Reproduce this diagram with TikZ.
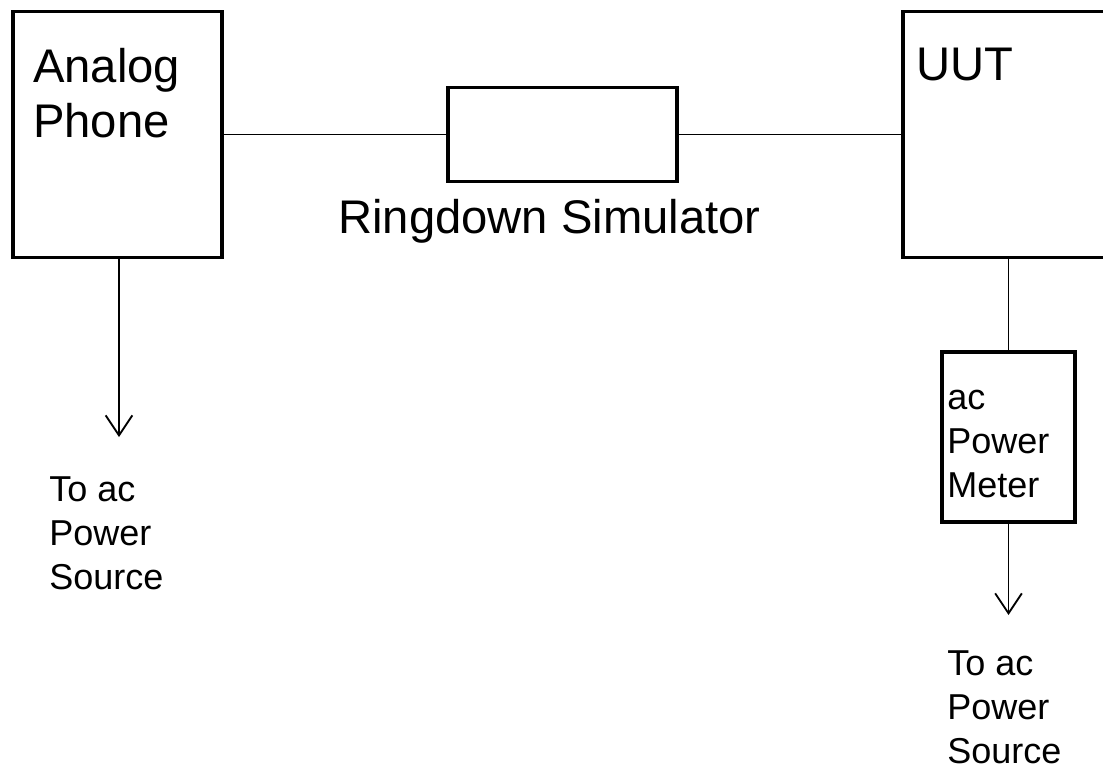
\documentclass[tikz,border=0pt]{standalone}
\usepackage{fontspec}
\setmainfont{Liberation Sans}
\usetikzlibrary{arrows.meta}
\begin{document}
\begin{tikzpicture}[x=0.75pt,y=-0.75pt,
  box/.style={draw=black,line width=2.9pt,rectangle,inner sep=0pt,fill=white},
  conn/.style={draw=black,line width=1.4pt},
  arr/.style={conn,-{Straight Barb[length=15pt,width=20pt,line width=1.4pt]}},
  bigtxt/.style={inner sep=0pt,anchor=base west,align=left,font=\fontsize{35.4pt}{41pt}\selectfont},
  smalltxt/.style={inner sep=0pt,anchor=base west,align=left,font=\fontsize{27pt}{33pt}\selectfont}]
\useasboundingbox (0,0) rectangle (1103,772);
\fill[white] (0,0) rectangle (1103,772);
% boxes
\node[box,minimum width=156.75pt,minimum height=184.5pt] (phone) at (117.5,134.5) {};
\node[box,minimum width=171.75pt,minimum height=70.5pt] (ring) at (562.5,134.5) {};
\node[box,minimum width=160pt,minimum height=184.5pt] (uut) at (1009.7,134.5) {};
\node[box,minimum width=99.75pt,minimum height=127.5pt] (meter) at (1008.5,437) {};
% free ends
\coordinate (pend) at (119,437);
\coordinate (mend) at (1008.5,615);
% connectors
\draw[conn] (phone.east) -- (ring.west);
\draw[conn] (ring.east) -- (uut.west);
\draw[conn] (uut.south -| meter.north) -- (meter.north);
\draw[arr] (phone.south -| pend) -- (pend);
\draw[arr] (meter.south) -- (mend);
% texts (anchored at the baseline of the last line)
\node[bigtxt] (tphone) at (33,137) {Analog\\Phone};
\node[bigtxt] (tuut) at (916,80) {UUT};
\node[bigtxt] (tring) at (338,233) {Ringdown Simulator};
\node[smalltxt] (tmeter) at (947,497) {ac\\Power\\Meter};
\node[smalltxt] (tsrc1) at (49,589) {To ac\\Power\\Source};
\node[smalltxt] (tsrc2) at (947,763) {To ac\\Power\\Source};
\end{tikzpicture}
\end{document}
